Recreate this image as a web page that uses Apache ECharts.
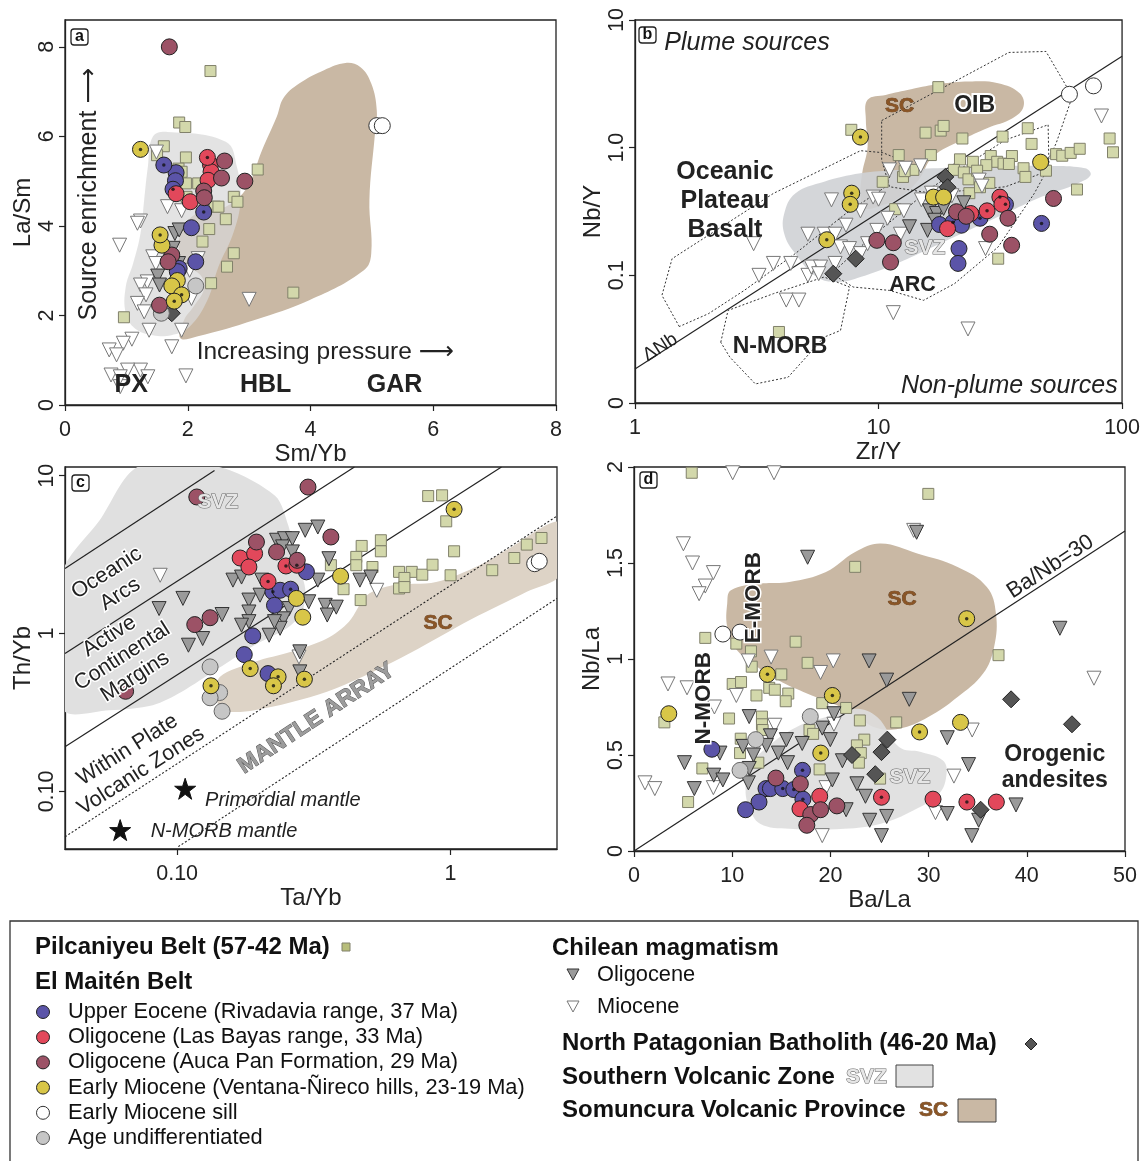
<!DOCTYPE html>
<html><head><meta charset="utf-8">
<script src="https://cdn.jsdelivr.net/npm/echarts@6/dist/echarts.min.js"></script>
<style>html,body{margin:0;padding:0;background:#fff}#c{width:1143px;height:1161px}</style>
</head><body><div id="c"></div>
<script>
// ---------------- DATA ----------------
// Panel a: Sm/Yb vs La/Sm   (third value 1 = sample with centre dot)
const aPil = [[2.37,7.46],[1.86,6.31],[1.96,6.21],[1.61,5.78],[1.50,5.58],[1.97,5.53],[1.85,5.28],[1.90,5.21],[1.97,4.95],[2.17,4.95],[3.14,5.26],[1.98,4.65],[2.44,4.43],[2.50,4.43],[2.75,4.65],[2.81,4.54],[2.62,4.15],[2.35,3.93],[2.24,3.65],[2.75,3.39],[2.64,3.09],[2.38,2.72],[3.72,2.51],[0.96,1.96]];
const aEoc = [[1.81,5.19,0],[1.80,5.01,0],[2.06,3.96,0],[2.13,3.20,0],[1.86,3.05,0],[1.83,2.98,0],[1.61,5.36,1],[1.76,4.82,1],[2.26,4.31,1]];
const aBay = [[2.37,5.37,0],[2.38,5.21,0],[2.33,5.02,0],[1.81,4.72,0],[2.04,4.54,0],[2.32,5.53,1]];
const aAuca = [[1.70,8.00],[2.60,5.45],[2.55,5.07],[2.93,5.00],[2.26,4.78],[2.27,4.63],[1.74,3.35],[1.68,3.20],[1.54,2.23]];
const aMio = [[1.58,3.57,0],[1.83,2.78,0],[1.74,2.66,0],[1.23,5.71,1],[1.55,3.80,1],[1.90,2.46,1],[1.78,2.32,1]];
const aSill = [[5.08,6.24],[5.17,6.24]];
const aUnd = [[2.13,2.66],[1.57,2.05]];
const aOliT = [[1.79,3.83],[1.86,3.91],[1.76,3.50],[1.51,2.88],[1.54,2.68],[1.85,3.16]];
const aMioT = [[1.67,4.43],[1.90,4.34],[1.23,4.11],[1.18,4.06],[0.89,3.57],[1.49,5.65],[1.43,3.31],[1.48,3.16],[1.34,2.75],[1.23,2.68],[1.32,2.46],[1.18,2.27],[1.29,2.08],[1.37,1.67],[1.90,1.67],[3.00,2.36],[2.06,2.38],[2.03,3.01],[2.17,3.27],[1.09,1.47],[0.95,1.38],[0.72,1.23],[0.84,1.12],[1.74,1.30],[1.23,0.78],[1.02,0.78],[0.75,0.67],[1.35,0.63],[0.90,0.41],[1.97,0.65],[0.90,0.63]];
const aNPB = [[1.74,2.05]];
const aSC = [[1.88,1.49],[2.15,1.53],[3.09,1.90],[3.98,2.34],[4.87,3.01],[4.99,3.39],[4.96,4.58],[5.05,6.06],[5.08,6.58],[4.99,7.18],[4.81,7.55],[4.57,7.64],[4.22,7.48],[3.86,7.22],[3.57,6.88],[3.45,6.44],[3.21,5.69],[2.97,4.87],[2.62,4.43],[2.15,4.28],[1.94,3.98],[1.85,3.53],[1.97,3.16],[2.23,2.86],[2.26,2.57],[2.09,2.19],[1.94,1.90]];
const aSVZ = [[1.43,5.99],[1.67,6.10],[2.62,5.88],[2.80,5.32],[2.86,4.58],[2.74,3.83],[2.50,3.09],[2.32,2.34],[2.03,1.75],[1.73,1.56],[1.43,1.56],[1.14,1.71],[0.99,2.05],[0.99,2.64],[1.11,3.16],[1.23,3.83],[1.29,4.58],[1.35,5.32]];
const aXTicks = [0,2,4,6,8];
const aYTicks = [0,2,4,6,8];

// Panel b: Zr/Y vs Nb/Y
const bPil = [[17.6,2.98],[7.73,1.38],[15.6,1.31],[18.0,1.36],[18.5,1.48],[22.1,1.18],[32.3,1.22],[41.0,1.42],[42.5,1.07],[88.9,1.18],[91.8,0.92],[53.6,0.89],[56.8,0.865],[61.5,0.91],[67.0,0.98],[12.1,0.875],[16.4,0.875],[10.4,0.54],[12.6,0.59],[13.9,0.67],[12.8,0.655],[21.6,0.81],[24.4,0.775],[28.9,0.86],[30.7,0.775],[32.6,0.75],[35.3,0.86],[34.3,0.745],[27.7,0.73],[20.4,0.67],[22.4,0.64],[23.4,0.565],[25.4,0.66],[28.5,0.53],[23.6,0.44],[26.1,0.49],[39.4,0.69],[40.1,0.59],[48.7,0.66],[65.3,0.47],[31.0,0.135],[3.90,0.036],[11.7,0.33]];
const bEoc = [[17.8,0.25,0],[20.2,0.26,1],[21.9,0.247,0],[26.1,0.28,1],[33.2,0.36,1],[46.7,0.255,1],[21.4,0.162,0],[21.2,0.124,0]];
const bBay = [[31.5,0.41,1],[27.9,0.32,1],[23.9,0.305,0],[19.2,0.232,0],[32.1,0.36,0]];
const bAuca = [[9.84,0.188],[11.5,0.18],[11.2,0.127],[20.9,0.315],[22.9,0.29],[28.6,0.21],[34.0,0.28],[35.2,0.172],[52.3,0.40]];
const bMio = [[8.43,1.21,1],[7.76,0.44,1],[7.65,0.36,1],[6.13,0.19,1],[16.8,0.41,0],[18.5,0.41,0],[46.3,0.77,0]];
const bSill = [[60.8,2.62],[76.3,3.05]];
const bNPB = [[18.8,0.59],[19.2,0.49],[8.06,0.135],[6.52,0.103]];
const bOliT = [[16.2,0.32],[17.3,0.305],[15.9,0.225],[13.4,0.24],[18.5,0.334],[22.4,0.37],[17.0,0.27]];
const bMioT = [[11.1,0.67],[12.9,0.69],[14.9,0.72],[6.41,0.39],[9.5,0.41],[10.0,0.395],[8.43,0.32],[12.7,0.32],[15.0,0.39],[10.9,0.28],[5.13,0.21],[5.98,0.21],[6.63,0.21],[7.35,0.247],[9.84,0.225],[6.98,0.167],[7.60,0.162],[8.43,0.148],[9.02,0.177],[12.3,0.21],[3.07,0.177],[3.23,0.10],[3.70,0.124],[4.36,0.124],[5.13,0.10],[5.30,0.116],[5.78,0.116],[5.68,0.103],[4.18,0.064],[4.71,0.064],[6.63,0.124],[11.5,0.051],[23.3,0.038],[27.5,0.162],[25.9,0.557],[26.6,0.50],[82.3,1.77],[16.5,0.44],[20.0,0.42]];
const bSC = [[9.02,2.37],[10.7,2.59],[13.6,2.87],[17.9,3.16],[23.5,3.30],[31.0,3.20],[38.0,2.67],[39.4,2.10],[35.5,1.70],[27.9,1.42],[22.0,1.15],[16.7,0.85],[14.6,0.557],[12.3,0.412],[10.4,0.355],[8.72,0.334],[8.43,0.412],[8.57,0.629],[9.02,1.02],[8.87,1.65]];
const bSVZ = [[4.10,0.305],[4.55,0.438],[5.98,0.541],[8.43,0.629],[11.9,0.668],[16.7,0.689],[23.5,0.71],[46.7,0.718],[70.5,0.689],[74.3,0.61],[65.8,0.525],[46.7,0.412],[33.2,0.305],[23.5,0.226],[16.7,0.167],[11.9,0.124],[8.43,0.097],[6.86,0.0887],[5.58,0.097],[4.55,0.148],[4.10,0.212]];
const bOIB = [[10.3,1.63],[34.3,5.57],[48.7,5.67],[62.5,2.52],[53.6,1.08],[46.7,0.629],[33.2,0.494],[16.7,0.438],[11.1,0.494],[10.3,0.80]];
const bOPB = [[1.52,0.0397],[1.29,0.0697],[1.42,0.135],[3.70,0.438],[8.43,0.947],[10.4,0.914],[11.9,0.824],[10.7,0.494],[7.35,0.305],[4.55,0.148],[2.81,0.0762],[2.0,0.050]];
const bARC = [[49.7,1.51],[50.1,0.71],[43.6,0.438],[31.0,0.167],[20.5,0.086],[15.3,0.0637],[11.1,0.0762],[7.87,0.081],[6.41,0.103],[9.02,0.188],[16.7,0.494],[33.2,1.15]];
const bNMORB = [[2.25,0.0299],[2.41,0.0531],[3.70,0.0718],[5.98,0.097],[7.60,0.081],[6.98,0.037],[5.98,0.0328],[4.25,0.0159],[3.12,0.0141],[2.45,0.0229]];
const bDeltaNb = [[1,0.0185],[100,5.19]];
const bXTicks = [1,10,100];
const bYTicks = [0.01,0.1,1,10];

// Panel c: Ta/Yb vs Th/Yb
const cPil = [[0.828,7.43],[0.931,7.51],[0.964,5.14],[0.473,3.59],[0.556,3.90],[0.556,3.32],[0.452,3.06],[0.452,2.71],[0.518,2.64],[0.365,2.71],[0.648,2.46],[0.721,2.46],[0.788,2.36],[0.859,2.73],[1.0,2.34],[0.678,2.25],[0.648,1.93],[0.678,1.97],[0.406,1.91],[0.469,1.63],[1.03,3.32],[1.42,2.52],[1.71,3.01],[1.90,3.66],[2.15,4.03]];
const cEoc = [[0.297,2.46,0],[0.224,1.84,1],[0.238,1.88,0],[0.260,1.91,1],[0.227,1.51,0],[0.189,0.967,0],[0.176,0.736,0],[0.215,0.558,0]];
const cBay = [[0.170,3.01,0],[0.192,3.21,0],[0.183,2.64,0],[0.215,2.14,1],[0.250,2.68,1],[0.274,2.71,1]];
const cAuca = [[0.118,7.33],[0.301,8.47],[0.195,3.80],[0.231,3.29],[0.365,4.09],[0.275,2.91],[0.132,1.26],[0.116,1.14],[0.0648,0.431]];
const cMio = [[1.03,6.12,1],[0.396,2.31,0],[0.273,1.67,0],[0.288,1.27,0],[0.185,0.600,1],[0.234,0.532,1],[0.225,0.467,1],[0.292,0.514,1],[0.133,0.467,1]];
const cSill = [[2.03,2.77],[2.11,2.87]];
const cUnd = [[0.132,0.615],[0.143,0.423],[0.132,0.392],[0.146,0.322]];
const cOliT = [[0.160,2.18],[0.172,2.28],[0.0859,1.44],[0.105,1.67],[0.124,0.93],[0.146,1.32],[0.110,0.844],[0.231,3.90],[0.247,3.99],[0.264,3.99],[0.294,4.51],[0.327,4.73],[0.243,3.54],[0.264,3.29],[0.359,2.98],[0.327,2.18],[0.303,1.59],[0.348,1.51],[0.382,1.47],[0.354,1.31],[0.257,1.44],[0.245,1.24],[0.238,1.08],[0.217,0.976],[0.227,1.19],[0.183,1.63],[0.183,1.37],[0.183,1.19],[0.172,1.13],[0.466,2.18],[0.511,2.28],[0.281,0.766],[0.281,0.572],[0.204,2.18],[0.201,1.75]];
const cMioT = [[0.0867,2.34],[0.537,1.88],[0.279,0.711]];
const cMantle = [[0.107,0.104],[0.0619,0.0569]];
const cSVZ = [[0.072,11.4],[0.141,11.4],[0.228,7.47],[0.255,4.83],[0.272,2.98],[0.294,1.93],[0.286,1.37],[0.252,1.08],[0.192,0.844],[0.141,0.600],[0.104,0.428],[0.0815,0.352],[0.0565,0.327],[0.0385,0.327],[0.0385,1.2],[0.0385,2.58],[0.052,5.2]];
const cSC = [[0.1435,0.532],[0.192,0.662],[0.261,0.766],[0.353,0.93],[0.425,1.19],[0.495,1.75],[0.614,2.02],[0.885,2.12],[1.277,2.71],[1.63,3.45],[2.50,5.09],[2.50,2.34],[1.90,1.84],[1.20,1.24],[0.652,0.695],[0.353,0.428],[0.192,0.327],[0.146,0.327],[0.139,0.407]];
const cLine1 = [[0.0389,2.58],[0.137,10.8]];
const cLine2 = [[0.0389,0.747],[0.445,11.35]];
const cLine3 = [[0.0389,0.192],[1.535,11.35]];
const cArrayUpper = [[0.0389,0.0516],[2.45,5.55]];
const cArrayLower = [[0.101,0.0447],[2.45,1.67]];
const cXTicks = [0.1,1];
const cYTicks = [0.1,1,10];

// Panel d: Ba/La vs Nb/La
const dPil = [[5.88,1.97],[29.97,1.86],[22.52,1.48],[16.46,1.09],[37.12,1.02],[17.68,0.98],[7.26,1.11],[10.42,1.08],[11.91,1.04],[11.99,0.96],[10.05,0.87],[10.90,0.88],[12.47,0.81],[15.0,0.92],[13.77,0.85],[14.34,0.84],[15.71,0.82],[15.45,0.78],[9.68,0.69],[13.03,0.70],[13.03,0.66],[13.1,0.63],[19.17,0.77],[21.6,0.745],[23.0,0.68],[26.7,0.67],[23.45,0.58],[22.7,0.55],[23.1,0.51],[22.9,0.46],[12.66,0.46],[10.87,0.585],[10.80,0.51],[6.96,0.43],[5.51,0.255],[3.09,0.67],[17.87,0.63],[18.24,0.61],[18.9,0.425],[25.06,0.377]];
const dEoc = [[7.93,0.53,0],[17.16,0.42,1],[13.44,0.325,0],[13.89,0.325,0],[15.15,0.325,1],[16.27,0.32,1],[17.2,0.27,1],[12.73,0.255,0],[11.36,0.215,0]];
const dBay = [[18.91,0.285,0],[16.9,0.22,0],[25.2,0.28,1],[30.45,0.27,0],[33.9,0.255,1],[36.9,0.255,0]];
const dAuca = [[14.45,0.38],[16.94,0.35],[18.0,0.19],[17.6,0.134],[19.0,0.215],[20.66,0.235]];
const dMio = [[13.59,0.92,1],[20.2,0.81,1],[33.88,1.21,1],[29.08,0.62,1],[33.25,0.67,0],[19.02,0.51,1],[3.54,0.715,0]];
const dSill = [[9.05,1.13],[10.8,1.14]];
const dUnd = [[17.95,0.70],[12.4,0.58],[10.80,0.42]];
const dNPB = [[38.4,0.79],[44.6,0.66],[25.8,0.58],[25.2,0.515],[22.2,0.50],[24.57,0.40],[35.3,0.215]];
const dOliT = [[17.68,1.53],[28.78,1.66],[43.37,1.16],[23.94,0.99],[25.73,0.89],[28.03,0.79],[20.36,0.715],[11.73,0.70],[19.17,0.64],[17.13,0.56],[13.89,0.60],[15.52,0.58],[19.99,0.58],[21.22,0.47],[14.7,0.51],[15.64,0.46],[12.17,0.50],[13.48,0.55],[11.1,0.545],[8.75,0.51],[5.14,0.46],[6.14,0.325],[8.12,0.395],[9.05,0.37],[11.73,0.43],[11.65,0.355],[20.2,0.37],[22.7,0.35],[23.57,0.285],[24.0,0.16],[25.73,0.18],[25.2,0.08],[31.9,0.59],[34.07,0.45],[34.4,0.08],[35.1,0.16],[38.9,0.24],[31.9,0.195],[21.6,0.215]];
const dMioT = [[10.05,1.97],[14.26,1.97],[28.48,1.67],[5.03,1.60],[5.96,1.50],[8.08,1.45],[7.26,1.38],[6.63,1.34],[3.46,0.87],[5.40,0.85],[10.42,0.81],[11.65,0.99],[13.96,1.01],[20.29,0.99],[19.0,0.93],[46.84,0.90],[34.44,0.63],[20.36,0.66],[32.58,0.39],[30.7,0.20],[19.17,0.08],[1.12,0.355],[2.12,0.325],[8.08,0.33],[8.19,0.75],[19.55,0.33],[14.34,0.655]];
const dSC = [[9.49,1.288],[9.87,1.358],[12.84,1.392],[15.82,1.401],[19.55,1.453],[22.52,1.557],[25.13,1.601],[28.85,1.549],[32.95,1.479],[35.93,1.375],[36.86,1.236],[36.67,1.063],[35.55,0.924],[32.95,0.802],[29.97,0.698],[26.99,0.637],[24.39,0.646],[22.52,0.715],[20.29,0.767],[17.68,0.819],[14.71,0.889],[12.10,0.976],[10.24,1.063],[9.49,1.167]];
const dSVZ = [[11.36,0.316],[11.73,0.4375],[13.59,0.542],[16.57,0.646],[19.55,0.698],[22.52,0.741],[24.76,0.698],[26.99,0.542],[29.23,0.516],[31.46,0.472],[31.83,0.403],[31.09,0.299],[28.48,0.212],[25.13,0.142],[21.41,0.116],[15.82,0.116],[12.84,0.142],[11.73,0.229]];
const dBaNb30 = [[0,0],[50,50/30]];
const dXTicks = [0,10,20,30,40,50];
const dYTicks = [0,0.5,1,1.5,2];

// ---------------- STYLES ----------------
const F = '"Liberation Sans", Arial, Helvetica, sans-serif';
const FA = '"Liberation Sans", "DejaVu Sans", sans-serif';
const C = {
  eoc:'#5b54a8', bay:'#e2485b', auca:'#9c5266', mio:'#d8c648', sill:'#ffffff', und:'#c6c6c6',
  pil:'#d3d8ab', pilB:'#80806a', oli:'#9a9a9a', npb:'#555555', sc:'#c9b8a4', svz:'#dcdcdc'
};
const STAR = 'path://M50,0 L61.8,35.1 L98.9,35.1 L68.9,56.9 L80.3,92.1 L50,70.5 L19.7,92.1 L31.1,56.9 L1.1,35.1 L38.2,35.1 Z';

const grids = [
  {left:65, top:20, width:491, height:385},
  {left:635, top:20, width:491, height:383},
  {left:65, top:467, width:492, height:382},
  {left:634, top:467, width:491, height:384}
].map(g => Object.assign({show:true, borderColor:'#222', borderWidth:1.3, backgroundColor:'transparent', containLabel:false}, g));

function axis(i, isY, o) {
  const base = {
    gridIndex:i, nameLocation:'middle',
    nameTextStyle:{fontSize:24, color:'#222', fontFamily:F},
    axisLine:{show:true, onZero:false, lineStyle:{color:'#222', width:1.3}},
    axisTick:{show:true, inside:false, length:6, lineStyle:{color:'#222', width:1.2}, customValues:o.ticks},
    axisLabel:{fontSize:21.5, color:'#222', fontFamily:F, margin: isY ? 7 : 14, rotate: isY ? 90 : 0, customValues:o.ticks, formatter:o.fmt, showMinLabel:true, showMaxLabel:true},
    splitLine:{show:false}, minorTick:{show:false},
    type:o.type || 'value', min:o.min, max:o.max, name:o.name, nameGap: isY ? 28 : 33
  };
  if (o.type === 'log') base.logBase = 10;
  return base;
}
const logFmt = m => (v => { const k = Math.round(Math.log10(v)); return m[k] !== undefined ? m[k] : String(v); });

const xAxes = [
  axis(0,false,{min:0,max:8,ticks:aXTicks,name:'Sm/Yb'}),
  axis(1,false,{type:'log',min:1,max:100,ticks:bXTicks,name:'Zr/Y',fmt:logFmt({0:'1',1:'10',2:'100'})}),
  axis(2,false,{type:'log',min:0.0389,max:2.45,ticks:cXTicks,name:'Ta/Yb',fmt:logFmt({'-1':'0.10',0:'1'})}),
  axis(3,false,{min:0,max:50,ticks:dXTicks,name:'Ba/La'})
];
const yAxes = [
  axis(0,true,{min:0,max:8.6,ticks:aYTicks,name:'La/Sm'}),
  axis(1,true,{type:'log',min:0.01,max:10,ticks:bYTicks,name:'Nb/Y',fmt:logFmt({'-2':'0','-1':'0.1',0:'1.0',1:'10'})}),
  axis(2,true,{type:'log',min:0.0432,max:11.35,ticks:cYTicks,name:'Th/Yb',fmt:logFmt({'-1':'0.10',0:'1',1:'10'})}),
  axis(3,true,{min:0,max:2,ticks:dYTicks,name:'Nb/La'})
];

const series = [];
function poly(i, pts, style, z, smooth) {
  series.push({type:'custom', xAxisIndex:i, yAxisIndex:i, clip:true, z:z, silent:true, data:[pts[0]],
    renderItem:(p, api) => ({type:'polygon', shape:{points:pts.map(q => api.coord(q)), smooth:smooth||0}, style:style})});
}
function line(i, pts, dashed) {
  series.push({type:'line', xAxisIndex:i, yAxisIndex:i, data:pts, symbol:'none', silent:true, z:3, clip:true,
    lineStyle:{color:'#222', width:dashed?1.1:1.2, type:dashed?[2,2]:'solid'}});
}
function pts(i, data, st, z) {
  series.push({type:'scatter', xAxisIndex:i, yAxisIndex:i, data:data.map(d => [d[0], d[1]]), symbol:st.symbol||'circle',
    symbolSize:st.size||16, symbolRotate:st.rot||0, silent:true, z:z,
    itemStyle:{color:st.fill, borderColor:st.stroke||'#222', borderWidth:st.bw||1, opacity:1}});
}
function dots(i, data) {
  const dd = data.filter(d => d[2] === 1).map(d => [d[0], d[1]]);
  if (dd.length) series.push({type:'scatter', xAxisIndex:i, yAxisIndex:i, data:dd, symbol:'circle', symbolSize:3.5, silent:true, z:12, itemStyle:{color:'#111'}});
}
function texts(i, items) {
  series.push({type:'custom', xAxisIndex:i, yAxisIndex:i, clip:false, z:15, silent:true,
    data:items.map((t, k) => [t.x, t.y, k]),
    renderItem:(p, api) => {
      const t = items[api.value(2)];
      const c = api.coord([api.value(0), api.value(1)]);
      return {type:'text', x:c[0], y:c[1], rotation:(t.rot||0)*Math.PI/180,
        style:{text:t.text, font:t.font, fill:t.fill||'#222', stroke:t.stroke||null, lineWidth:t.lw||0, strokeFirst:!!t.sf,
          align:t.align||'center', verticalAlign:'middle', lineHeight:t.lh||undefined}};
    }});
}
const SVZtxt = {fill:'#e6e6e6', stroke:'#6a6a6a', lw:1.1, font:'bold 21px '+F};
const SCtxt = {fill:'#8a5526', stroke:'#4b2a0f', lw:0.6, font:'bold 21px '+F};

const ST = {
  pil:{symbol:'rect', size:11, fill:C.pil, stroke:C.pilB},
  mioT:{symbol:'triangle', size:14, rot:180, fill:'#ffffff', stroke:'#777'},
  oliT:{symbol:'triangle', size:14, rot:180, fill:C.oli, stroke:'#333'},
  npb:{symbol:'diamond', size:17, fill:C.npb, stroke:'#222'},
  und:{fill:C.und, stroke:'#666'},
  sill:{fill:C.sill, stroke:'#333'},
  eoc:{fill:C.eoc}, bay:{fill:C.bay}, auca:{fill:C.auca}, mio:{fill:C.mio},
  star:{symbol:STAR, size:21, fill:'#111', stroke:'#111'}
};

function groups(i, g) {
  if (g.pil) pts(i, g.pil, ST.pil, 5);
  if (g.mioT) pts(i, g.mioT, ST.mioT, 6);
  if (g.oliT) pts(i, g.oliT, ST.oliT, 7);
  if (g.npb) pts(i, g.npb, ST.npb, 8);
  if (g.und) pts(i, g.und, ST.und, 9);
  if (g.sill) pts(i, g.sill, ST.sill, 9);
  if (g.eoc) { pts(i, g.eoc, ST.eoc, 10); dots(i, g.eoc); }
  if (g.bay) { pts(i, g.bay, ST.bay, 10); dots(i, g.bay); }
  if (g.auca) pts(i, g.auca, ST.auca, 10);
  if (g.mio) { pts(i, g.mio, ST.mio, 10); dots(i, g.mio); }
}

// Panel a
poly(0, aSC, {fill:C.sc}, 1, 0.4);
poly(0, aSVZ, {fill:'#d8d8d8', opacity:0.72}, 2, 0.4);
groups(0, {pil:aPil, mioT:aMioT, oliT:aOliT, npb:aNPB, und:aUnd, sill:aSill, eoc:aEoc, bay:aBay, auca:aAuca, mio:aMio});
texts(0, [
  {x:0.40, y:4.71, text:'Source enrichment \u27F6', font:'25px '+FA, rot:90},
  {x:4.24, y:1.18, text:'Increasing pressure \u27F6', font:'24.5px '+FA},
  {x:1.08, y:0.45, text:'PX', font:'bold 25px '+F},
  {x:3.27, y:0.45, text:'HBL', font:'bold 25px '+F},
  {x:5.37, y:0.45, text:'GAR', font:'bold 25px '+F}
]);

// Panel b
poly(1, bSC, {fill:C.sc}, 1, 0.4);
poly(1, bSVZ, {fill:'#cfd1d5', opacity:0.9}, 2, 0.4);
const dashSt = {fill:'none', stroke:'#333', lineWidth:1, lineDash:[2,2]};
poly(1, bOIB, dashSt, 3, 0);
poly(1, bOPB, dashSt, 3, 0);
poly(1, bARC, dashSt, 3, 0);
poly(1, bNMORB, dashSt, 3, 0);
line(1, bDeltaNb, false);
groups(1, {pil:bPil, mioT:bMioT, oliT:bOliT, npb:bNPB, sill:bSill, eoc:bEoc, bay:bBay, auca:bAuca, mio:bMio});
texts(1, [
  {x:1.32, y:6.63, text:'Plume sources', font:'italic 25px '+F, align:'left'},
  {x:95.9, y:0.01365, text:'Non-plume sources', font:'italic 25px '+F, align:'right'},
  Object.assign({x:12.2, y:2.10, text:'SC'}, SCtxt),
  {x:24.8, y:2.13, text:'OIB', font:'bold 23px '+F, fill:'#222', stroke:'#fff', lw:4, sf:true},
  {x:2.34, y:0.380, text:'Oceanic\nPlateau\nBasalt', font:'bold 25px '+F, lh:29},
  Object.assign({x:15.5, y:0.164, text:'SVZ'}, SVZtxt),
  {x:13.8, y:0.0845, text:'ARC', font:'bold 21.5px '+F},
  {x:3.94, y:0.0276, text:'N-MORB', font:'bold 23px '+F},
  {x:1.27, y:0.0272, text:'\u0394Nb', font:'19px '+F, rot:32.5}
]);

// Panel c
poly(2, cSVZ, {fill:'#e0e0e0'}, 1, 0.3);
poly(2, cSC, {fill:'#ddd3c6'}, 1, 0.3);
line(2, cLine1, false); line(2, cLine2, false); line(2, cLine3, false);
line(2, cArrayUpper, true); line(2, cArrayLower, true);
groups(2, {pil:cPil, mioT:cMioT, oliT:cOliT, und:cUnd, sill:cSill, eoc:cEoc, bay:cBay, auca:cAuca, mio:cMio});
pts(2, cMantle, ST.star, 11);
texts(2, [
  Object.assign({x:0.141, y:6.84, text:'SVZ'}, SVZtxt),
  {x:0.0585, y:2.07, text:'Oceanic\nArcs', font:'21.5px '+F, rot:32.5, lh:25, fill:'#222', stroke:'#fff', lw:3, sf:true},
  {x:0.063, y:0.715, text:'Active\nContinental\nMargins', font:'21.5px '+F, rot:32.5, lh:24, fill:'#222', stroke:'#fff', lw:3, sf:true},
  {x:0.0697, y:0.157, text:'Within Plate\nVolcanic Zones', font:'21.5px '+F, rot:32.5, lh:25, fill:'#222', stroke:'#fff', lw:3, sf:true},
  {x:0.323, y:0.290, text:'MANTLE ARRAY', font:'bold 23px '+F, rot:33.5, fill:'#9c9c9c', stroke:'#555', lw:1},
  Object.assign({x:0.90, y:1.16, text:'SC'}, SCtxt),
  {x:0.1265, y:0.0877, text:'Primordial mantle', font:'italic 20px '+F, align:'left'},
  {x:0.080, y:0.0558, text:'N-MORB mantle', font:'italic 20px '+F, align:'left'}
]);

// Panel d
poly(3, dSC, {fill:C.sc}, 1, 0.4);
poly(3, dSVZ, {fill:'#dedede', opacity:0.9}, 2, 0.4);
line(3, dBaNb30, false);
groups(3, {pil:dPil, mioT:dMioT, oliT:dOliT, npb:dNPB, und:dUnd, sill:dSill, eoc:dEoc, bay:dBay, auca:dAuca, mio:dMio});
texts(3, [
  Object.assign({x:27.3, y:1.31, text:'SC'}, SCtxt),
  {x:12.25, y:1.32, text:'E-MORB', font:'bold 22.5px '+F, rot:90, stroke:'#fff', lw:3, sf:true},
  {x:7.11, y:0.795, text:'N-MORB', font:'bold 22.5px '+F, rot:90, stroke:'#fff', lw:3, sf:true},
  {x:42.4, y:1.48, text:'Ba/Nb=30', font:'22px '+F, rot:33.2},
  Object.assign({x:28.1, y:0.384, text:'SVZ'}, SVZtxt),
  {x:42.85, y:0.435, text:'Orogenic\nandesites', font:'bold 23px '+F, lh:26}
]);

// ---------------- GRAPHIC: panel tags + legend ----------------
const G = [];
function tag(x, y, s) {
  G.push({type:'rect', z:50, shape:{x:x, y:y, width:17, height:16, r:3}, style:{fill:'#fff', stroke:'#222', lineWidth:1.3}});
  G.push({type:'text', z:51, x:x+8.5, y:y+8, style:{text:s, font:'bold 16px '+F, fill:'#111', align:'center', verticalAlign:'middle'}});
}
tag(71, 29, 'a'); tag(639, 27, 'b'); tag(72, 475, 'c'); tag(640, 472, 'd');

function gt(x, y, s, font, extra) {
  G.push({type:'text', z:50, x:x, y:y, style:Object.assign({text:s, font:font, fill:'#111', align:'left', verticalAlign:'middle'}, extra||{})});
}
G.push({type:'rect', z:40, shape:{x:10, y:921, width:1128, height:280}, style:{fill:'#fff', stroke:'#333', lineWidth:1.3}});
const B = 'bold 24px '+F, R = '21.8px '+F;
gt(35, 947, 'Pilcaniyeu Belt (57-42 Ma)', B);
G.push({type:'rect', z:50, shape:{x:342, y:943, width:8, height:8}, style:{fill:'#b7bd7a', stroke:C.pilB, lineWidth:1}});
gt(35, 982, 'El Maitén Belt', B);
const legC = [[C.eoc,'#222','Upper Eocene (Rivadavia range, 37 Ma)'],[C.bay,'#222','Oligocene (Las Bayas range, 33 Ma)'],[C.auca,'#222','Oligocene (Auca Pan Formation, 29 Ma)'],[C.mio,'#222','Early Miocene (Ventana-Ñireco hills, 23-19 Ma)'],['#fff','#333','Early Miocene sill'],[C.und,'#555','Age undifferentiated']];
legC.forEach((l, k) => {
  const y = 1012 + k*25.2;
  G.push({type:'circle', z:50, shape:{cx:43, cy:y, r:6.5}, style:{fill:l[0], stroke:l[1], lineWidth:1}});
  gt(68, y, l[2], R);
});
gt(552, 948, 'Chilean magmatism', B);
G.push({type:'polygon', z:50, shape:{points:[[567,969],[579,969],[573,980]]}, style:{fill:C.oli, stroke:'#333', lineWidth:1}});
gt(597, 975, 'Oligocene', R);
G.push({type:'polygon', z:50, shape:{points:[[567,1001],[579,1001],[573,1012]]}, style:{fill:'#fff', stroke:'#777', lineWidth:1}});
gt(597, 1007, 'Miocene', R);
gt(562, 1043, 'North Patagonian Batholith (46-20 Ma)', B);
G.push({type:'polygon', z:50, shape:{points:[[1031,1038],[1037,1044],[1031,1050],[1025,1044]]}, style:{fill:C.npb, stroke:'#222', lineWidth:1}});
gt(562, 1077, 'Southern Volcanic Zone', B);
gt(846, 1077, 'SVZ', 'bold 21px '+F, {fill:'#e6e6e6', stroke:'#6a6a6a', lineWidth:1.1});
G.push({type:'rect', z:50, shape:{x:896, y:1065, width:37, height:22}, style:{fill:'#e2e2e2', stroke:'#444', lineWidth:1}});
gt(562, 1110, 'Somuncura Volcanic Province', B);
gt(919, 1110, 'SC', 'bold 21px '+F, {fill:'#8a5526', stroke:'#4b2a0f', lineWidth:0.6});
G.push({type:'rect', z:50, shape:{x:958, y:1099, width:38, height:23}, style:{fill:C.sc, stroke:'#444', lineWidth:1}});

const chart = echarts.init(document.getElementById('c'), null, {renderer:'canvas'});
chart.setOption({
  animation:false, backgroundColor:'#fff',
  grid:grids, xAxis:xAxes, yAxis:yAxes, series:series, graphic:G
});
</script></body></html>
